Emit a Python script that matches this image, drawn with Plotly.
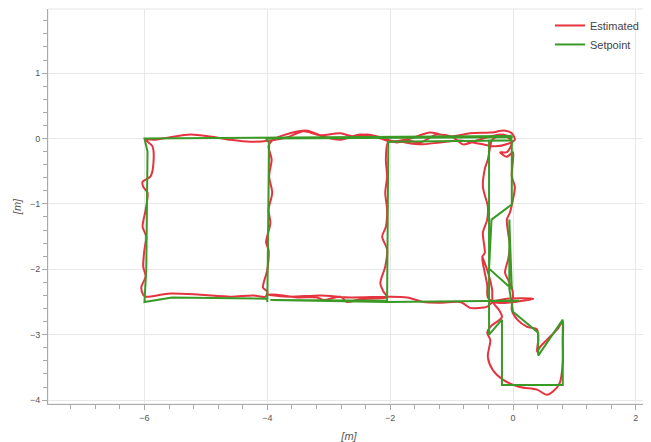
import plotly.graph_objects as go

# Estimated trajectory [m]
est_x = [-0.05, -0.21, -0.37, -0.59, -0.81, -0.98, -1.24, -1.51, -1.72, -1.89, -2.16, -2.37, -2.60, -2.81, -3.14, -3.41, -3.67, -3.95, -4.28, -4.60, -4.93, -5.25, -5.58, -5.82, -5.98,
         -5.87, -5.85, -5.90, -6.03, -6.02, -5.95, -5.98, -6.03, -5.97, -6.00, -6.02, -5.98, -6.05, -6.02, -5.98,
         -5.58, -5.09, -4.60, -4.23, -4.03,
         -4.00, -4.07, -4.00, -3.98, -4.02, -3.95, -3.98, -3.92, -3.97, -3.93, -3.98, -3.92,
         -3.63, -3.35, -3.09, -2.81, -2.49, -2.21, -2.00, -1.67, -1.35, -1.02, -0.70, -0.37, -0.13, -0.02, 0.03,
         -0.08, -0.29, -0.54, -0.86, -1.19, -1.51, -1.84, -2.03,
         -2.07, -2.05, -2.08, -2.05, -2.07, -2.13, -2.05, -2.08, -2.16, -2.11, -2.05,
         -2.33, -2.54, -2.70, -2.81, -3.09, -3.19, -3.51, -3.84, -4.00,
         -3.63, -3.14, -2.65, -2.05, -1.72, -1.46, -1.19, -0.86, -0.78, -0.70, -0.42, -0.33, -0.10, 0.33, 0.03, -0.29, -0.41,
         -0.42, -0.50, -0.46, -0.49, -0.42, -0.41, -0.49, -0.46, -0.41, -0.37, -0.34,
         -0.16, -0.10, -0.02, -0.10, -0.21, -0.10, 0.00,
         0.00, -0.02, 0.03, 0.00, -0.05, -0.10, -0.08, -0.05, -0.08, -0.13, -0.08, -0.02, 0.00, -0.02, 0.07, 0.23, 0.39, 0.41, 0.39, 0.44, 0.55, 0.72, 0.81, 0.81, 0.81, 0.76, 0.65, 0.55, 0.39, 0.11, -0.16, -0.33, -0.41, -0.37, -0.42, -0.37, -0.18, -0.23, -0.33, -0.34, -0.42, -0.50]
est_y = [0.03, 0.06, 0.03, -0.03, -0.09, 0.02, 0.06, -0.06, -0.03, -0.06, 0.02, 0.06, 0.03, 0.08, 0.05, 0.11, 0.02, -0.03, -0.05, -0.02, 0.03, 0.06, 0.02, -0.02, -0.02,
         -0.12, -0.32, -0.58, -0.66, -0.74, -0.83, -1.09, -1.35, -1.50, -1.70, -1.96, -2.11, -2.27, -2.39, -2.42,
         -2.37, -2.39, -2.42, -2.40, -2.42,
         -2.34, -2.28, -2.01, -1.70, -1.59, -1.29, -1.09, -0.83, -0.58, -0.32, -0.12, -0.03,
         0.08, 0.12, 0.03, -0.02, 0.06, 0.02, -0.05, 0.00, 0.09, 0.03, 0.08, 0.09, 0.12, 0.08, -0.02,
         -0.08, -0.12, -0.08, -0.03, -0.06, -0.09, -0.05, -0.05,
         -0.32, -0.58, -0.83, -1.09, -1.35, -1.50, -1.70, -1.96, -2.21, -2.34, -2.43,
         -2.45, -2.47, -2.50, -2.42, -2.47, -2.43, -2.43, -2.39, -2.39,
         -2.42, -2.40, -2.43, -2.42, -2.43, -2.50, -2.51, -2.50, -2.54, -2.59, -2.57, -2.50, -2.45, -2.45, -2.50, -2.51, -2.43,
         -2.24, -1.81, -1.75, -1.44, -1.24, -1.04, -0.74, -0.47, -0.32, -0.12, -0.02,
         0.06, 0.03, -0.06, -0.21, -0.21, -0.28, -0.21,
         -0.32, -0.58, -0.74, -0.93, -1.13, -1.24, -1.44, -1.65, -1.85, -2.05, -2.16, -2.28, -2.42, -2.62, -2.77, -2.88, -2.92, -3.08, -3.26, -3.19, -3.08, -2.92, -2.80, -3.08, -3.43, -3.74, -3.87, -3.92, -3.84, -3.80, -3.69, -3.54, -3.34, -3.08, -2.97, -2.88, -2.73, -2.62, -2.50, -2.31, -2.01, -1.81]

# Setpoint trajectory [m]
set_x = [-0.02, -6.00, -5.95, -5.97, -6.00, -5.55, -4.00, -4.00, -3.97, -4.02, -0.02, -0.05, -2.03, -2.05, -3.95, -2.05, 0.10, -0.39, -0.39, -0.02, -0.02, -0.35, -0.39, -0.02, -0.06, -0.06, 0.00, 0.41, 0.41, 0.81, 0.81, -0.18, -0.18, -0.39, -0.39]
set_y = [0.04, 0.00, -0.20, -2.00, -2.50, -2.43, -2.45, -2.50, -0.07, 0.00, 0.02, -0.03, -0.05, -2.48, -2.47, -2.50, -2.48, -2.48, -0.03, -0.03, -1.01, -1.24, -1.99, -2.30, -1.24, -2.30, -2.65, -2.97, -3.32, -2.77, -3.77, -3.77, -2.77, -3.00, -2.48]

x_ticks = [-6, -4, -2, 0, 2]
y_ticks = [-4, -3, -2, -1, 0, 1]

fig = go.Figure()
fig.add_trace(go.Scatter(x=est_x, y=est_y, mode="lines", name="Estimated",
                         line=dict(color="#e5333f", width=2, shape="spline", smoothing=0.8)))
fig.add_trace(go.Scatter(x=set_x, y=set_y, mode="lines", name="Setpoint",
                         line=dict(color="#3a9a26", width=2)))

axis_common = dict(showgrid=True, gridcolor="#e8e8e8", gridwidth=1, zeroline=False,
                   showline=True, linecolor="#aaaaaa", linewidth=1, automargin=False,
                   ticks="outside", ticklen=5, tickcolor="#aaaaaa",
                   tickfont=dict(family="Liberation Sans, Arial", size=9, color="#555555"))

fig.update_xaxes(range=[-7.57, 2.23], tickvals=x_ticks,
                 minor=dict(dtick=0.4, ticks="outside", ticklen=4, tickcolor="#aaaaaa", showgrid=False),
                 title=dict(text="<i>[m]</i>", font=dict(family="Liberation Sans, Arial", size=11, color="#555555"), standoff=10),
                 **axis_common)
fig.update_yaxes(range=[-4.06, 1.98], tickvals=y_ticks,
                 minor=dict(dtick=0.2, ticks="outside", ticklen=4, tickcolor="#aaaaaa", showgrid=False),
                 title=dict(text="<i>[m]</i>", font=dict(family="Liberation Sans, Arial", size=11, color="#555555"), standoff=6),
                 **axis_common)

fig.add_shape(type="rect", xref="paper", yref="paper", x0=0, y0=0, x1=1, y1=1,
              line=dict(color="#e6e6e6", width=1), layer="below")

# page body has an 8px margin, so the figure is sized to fill the rest of the window
fig.update_layout(width=643, height=434,
                  margin=dict(l=40, r=1, t=1, b=38, autoexpand=False),
                  plot_bgcolor="white", paper_bgcolor="white",
                  font=dict(family="Liberation Sans, Arial", color="#444444"),
                  legend=dict(x=0.99, y=0.995, xanchor="right", yanchor="top",
                              bgcolor="rgba(255,255,255,0)", font=dict(size=11, color="#444444"),
                              itemwidth=30, tracegroupgap=2))

fig.write_html("out.html")
